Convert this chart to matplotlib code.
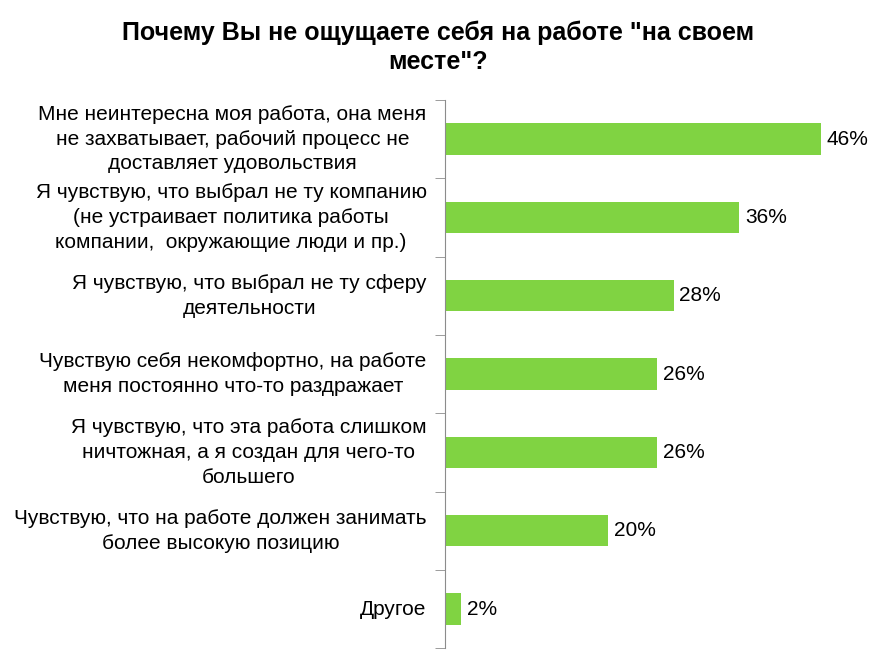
import matplotlib.pyplot as plt
import numpy as np

plt.rcParams['font.family'] = ['Liberation Sans', 'DejaVu Sans']

# survey answers, top to bottom
labels = [
    "Мне неинтересна моя работа, она меня\nне захватывает, рабочий процесс не\nдоставляет удовольствия",
    "Я чувствую, что выбрал не ту компанию\n(не устраивает политика работы\nкомпании,  окружающие люди и пр.)",
    "Я чувствую, что выбрал не ту сферу\nдеятельности",
    "Чувствую себя некомфортно, на работе\nменя постоянно что-то раздражает",
    "Я чувствую, что эта работа слишком\nничтожная, а я создан для чего-то\nбольшего",
    "Чувствую, что на работе должен занимать\nболее высокую позицию",
    "Другое",
]
values = [46, 36, 28, 26, 26, 20, 2]

fig = plt.figure(figsize=(8.77, 6.71), dpi=100)
ax = fig.add_axes([0.507, 0.034, 0.485, 0.817])

y = np.arange(len(values))
ax.barh(y, values, height=0.4, color="#80d342")
ax.set_ylim(len(values) - 0.5, -0.5)
ax.set_xlim(0, 52)

for yi, v in zip(y, values):
    ax.text(v + 0.7, yi, f"{v}%", va="center", ha="left", fontsize=15)

# category labels drawn as text: block right-aligned, lines centred
for yi, lab in zip(y, labels):
    ax.text(-2.2, yi, lab, va="center", ha="right", ma="center",
            fontsize=15, linespacing=1.38)

ax.set_yticks(y)
ax.set_yticklabels([])
ax.tick_params(axis="y", which="major", length=0)
ax.set_yticks(np.arange(-0.5, len(values)), minor=True)
ax.tick_params(axis="y", which="minor", length=7, color="#8c8c8c", direction="out")
ax.set_xticks([])

for s in ["top", "right", "bottom"]:
    ax.spines[s].set_visible(False)
ax.spines["left"].set_color("#8c8c8c")

fig.text(0.5, 0.97, "Почему Вы не ощущаете себя на работе \"на своем\nместе\"?",
         ha="center", va="top", fontsize=18, fontweight="bold", linespacing=1.3)

fig.savefig("out.png", dpi=100)
